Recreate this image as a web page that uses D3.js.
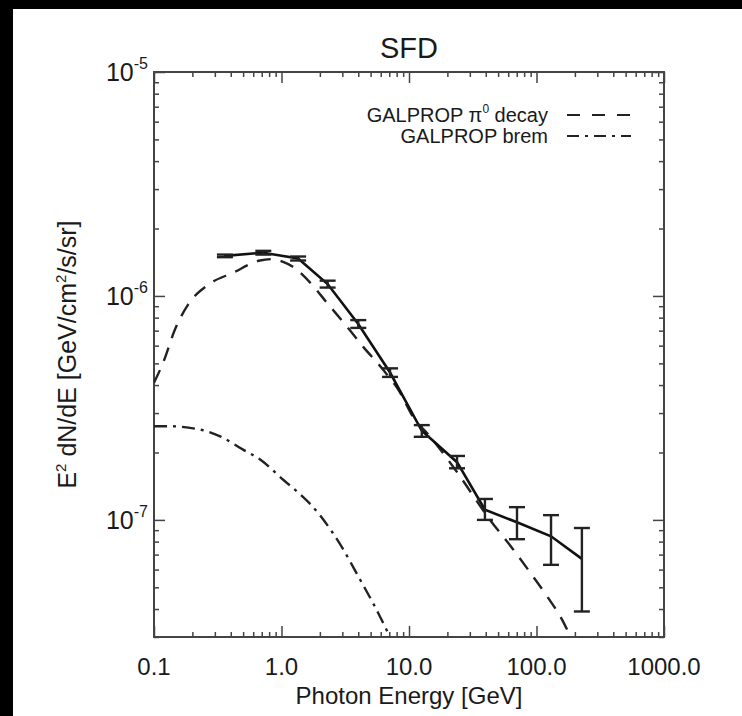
<!DOCTYPE html>
<html lang="en">
<head>
    <meta charset="UTF-8">
    <title>SFD</title>
    <script src="https://d3js.org/d3.v7.min.js"></script>
    <style>
        body { margin: 0; background: #000; }
        text { font-family: "Liberation Sans", Arial, Helvetica, sans-serif; fill: #1a1a1a; }
    </style>
</head>
<body>

<script>

    // measured points (GeV, GeV/cm^2/s/sr)
    var energy = [0.36, 0.72, 1.35, 2.3, 4.0, 7.1, 12.6, 23.8, 39.4, 70.3, 130, 227];
    var flux   = [1.51e-6, 1.56e-6, 1.47e-6, 1.13e-6, 7.5e-7, 4.55e-7, 2.5e-7, 1.81e-7, 1.11e-7, 9.76e-8, 8.45e-8, 6.7e-8];
    var fluxHi = [1.53e-6, 1.59e-6, 1.5e-6, 1.17e-6, 7.8e-7, 4.75e-7, 2.65e-7, 1.93e-7, 1.24e-7, 1.14e-7, 1.05e-7, 9.2e-8];
    var fluxLo = [1.49e-6, 1.53e-6, 1.44e-6, 1.09e-6, 7.2e-7, 4.35e-7, 2.35e-7, 1.7e-7, 1.0e-7, 8.2e-8, 6.3e-8, 3.9e-8];

    // GALPROP pi0 decay model
    var pi0E = [0.1, 0.118, 0.146, 0.185, 0.265, 0.417, 0.678, 0.85, 1.03, 1.23, 1.67, 2.27, 3.26, 4.36, 6.25, 8.5, 10.7, 14.6, 23, 43.2, 65.4, 89, 121, 161, 185];
    var pi0V = [4.1e-7, 5.04e-7, 7.08e-7, 9.15e-7, 1.12e-6, 1.27e-6, 1.44e-6, 1.46e-6, 1.42e-6, 1.35e-6, 1.15e-6, 9.33e-7, 7.3e-7, 5.94e-7, 4.69e-7, 3.71e-7, 2.9e-7, 2.36e-7, 1.68e-7, 1.0e-7, 7.4e-8, 5.83e-8, 4.56e-8, 3.53e-8, 3.0e-8];

    // GALPROP bremsstrahlung model
    var bremE = [0.1, 0.13, 0.23, 0.33, 0.5, 0.68, 0.97, 2.0, 3.0, 4.0, 5.4, 7.1];
    var bremV = [2.62e-7, 2.62e-7, 2.53e-7, 2.36e-7, 2.06e-7, 1.86e-7, 1.56e-7, 1.05e-7, 7.5e-8, 5.6e-8, 4.1e-8, 3.0e-8];

    var xTicks = [0.1, 1, 10, 100, 1000];
    var xTickLabels = ["0.1", "1.0", "10.0", "100.0", "1000.0"];
    var yTicks = [1e-5, 1e-6, 1e-7];
    var yTickExp = ["-5", "-6", "-7"];

    var W = 742, H = 716;
    var pLeft = 154, pRight = 664, pTop = 72, pBottom = 637;

    var svg = d3.select("body").append("svg")
        .attr("width", W).attr("height", H);

    // white page with black scan border on top/left
    svg.append("rect").attr("x", 13).attr("y", 9).attr("width", W - 13).attr("height", H - 9).attr("fill", "#fff");

    var xScale = d3.scaleLog().domain([0.1, 1000]).range([pLeft, pRight]);
    var yScale = d3.scaleLog().domain([3e-8, 1e-5]).range([pBottom, pTop]);

    var axisColor = "#444";

    // minor tick values
    var xMinor = [], yMinor = [];
    [0.1, 1, 10, 100].forEach(function (d) { for (var k = 2; k <= 9; k++) xMinor.push(d * k); });
    [1e-8, 1e-7, 1e-6].forEach(function (d) { for (var k = 2; k <= 9; k++) if (d * k >= 3e-8) yMinor.push(d * k); });

    function drawAxis(axisFn, scale, vals, size, transform) {
        var g = svg.append("g").attr("transform", transform)
            .call(axisFn(scale).tickValues(vals).tickSize(size).tickFormat(""));
        g.select(".domain").remove();
        g.selectAll("line").attr("stroke", axisColor).attr("stroke-width", 1.5);
    }

    // ticks point inward on all four sides
    drawAxis(d3.axisBottom, xScale, xTicks, -11, "translate(0," + pBottom + ")");
    drawAxis(d3.axisBottom, xScale, xMinor, -5, "translate(0," + pBottom + ")");
    drawAxis(d3.axisTop, xScale, xTicks, -11, "translate(0," + pTop + ")");
    drawAxis(d3.axisTop, xScale, xMinor, -5, "translate(0," + pTop + ")");
    drawAxis(d3.axisLeft, yScale, yTicks, -11, "translate(" + pLeft + ",0)");
    drawAxis(d3.axisLeft, yScale, yMinor, -5, "translate(" + pLeft + ",0)");
    drawAxis(d3.axisRight, yScale, yTicks, -11, "translate(" + pRight + ",0)");
    drawAxis(d3.axisRight, yScale, yMinor, -5, "translate(" + pRight + ",0)");

    svg.append("rect").attr("x", pLeft).attr("y", pTop)
        .attr("width", pRight - pLeft).attr("height", pBottom - pTop)
        .attr("fill", "none").attr("stroke", axisColor).attr("stroke-width", 2);

    // tick labels
    svg.selectAll(".xlab").data(xTicks).enter().append("text")
        .attr("x", function (d) { return xScale(d); })
        .attr("y", 675)
        .attr("text-anchor", "middle")
        .attr("font-size", 24)
        .text(function (d, i) { return xTickLabels[i]; });

    var ylab = svg.selectAll(".ylab").data(yTicks).enter().append("text")
        .attr("x", 148)
        .attr("y", function (d) { return yScale(d) + 9; })
        .attr("text-anchor", "end")
        .attr("font-size", 25);
    ylab.append("tspan").text("10");
    ylab.append("tspan").attr("font-size", 16).attr("dy", -12)
        .text(function (d, i) { return yTickExp[i]; });

    // titles
    svg.append("text").attr("x", (pLeft + pRight) / 2).attr("y", 58)
        .attr("text-anchor", "middle").attr("font-size", 29).text("SFD");

    svg.append("text").attr("x", (pLeft + pRight) / 2).attr("y", 704)
        .attr("text-anchor", "middle").attr("font-size", 24).text("Photon Energy [GeV]");

    var yt = svg.append("text")
        .attr("transform", "translate(76," + ((pTop + pBottom) / 2) + ") rotate(-90)")
        .attr("text-anchor", "middle").attr("font-size", 25);
    yt.append("tspan").text("E");
    yt.append("tspan").attr("font-size", 15).attr("dy", -10).text("2");
    yt.append("tspan").attr("dy", 10).text(" dN/dE [GeV/cm");
    yt.append("tspan").attr("font-size", 15).attr("dy", -10).text("2");
    yt.append("tspan").attr("dy", 10).text("/s/sr]");

    // clip to plot box
    svg.append("clipPath").attr("id", "plotclip").append("rect")
        .attr("x", pLeft).attr("y", pTop).attr("width", pRight - pLeft).attr("height", pBottom - pTop);
    var plot = svg.append("g").attr("clip-path", "url(#plotclip)");

    var line = d3.line()
        .x(function (d) { return xScale(d[0]); })
        .y(function (d) { return yScale(d[1]); });
    var smooth = d3.line()
        .x(function (d) { return xScale(d[0]); })
        .y(function (d) { return yScale(d[1]); })
        .curve(d3.curveMonotoneX);

    plot.append("path").datum(d3.zip(pi0E, pi0V))
        .attr("d", smooth).attr("fill", "none")
        .attr("stroke", "#222").attr("stroke-width", 2.4)
        .attr("stroke-dasharray", "14,10");

    plot.append("path").datum(d3.zip(bremE, bremV))
        .attr("d", smooth).attr("fill", "none")
        .attr("stroke", "#222").attr("stroke-width", 2.4)
        .attr("stroke-dasharray", "13,6,3,6");

    plot.append("path").datum(d3.zip(energy, flux))
        .attr("d", line).attr("fill", "none")
        .attr("stroke", "#111").attr("stroke-width", 2.6);

    // error bars
    var eb = plot.selectAll(".eb").data(d3.range(energy.length)).enter().append("g")
        .attr("stroke", "#222").attr("stroke-width", 2.4);
    eb.append("line")
        .attr("x1", function (i) { return xScale(energy[i]); })
        .attr("x2", function (i) { return xScale(energy[i]); })
        .attr("y1", function (i) { return yScale(fluxLo[i]); })
        .attr("y2", function (i) { return yScale(fluxHi[i]); });
    [fluxLo, fluxHi].forEach(function (arr) {
        eb.append("line")
            .attr("x1", function (i) { return xScale(energy[i]) - 8; })
            .attr("x2", function (i) { return xScale(energy[i]) + 8; })
            .attr("y1", function (i) { return yScale(arr[i]); })
            .attr("y2", function (i) { return yScale(arr[i]); });
    });

    // legend
    var legend = [
        { label: "GALPROP \u03c0", sup: "0", rest: " decay", dash: "13,12" },
        { label: "GALPROP brem", sup: "", rest: "", dash: "12,6,3,6" }
    ];
    var lg = svg.selectAll(".lg").data(legend).enter().append("g")
        .attr("transform", function (d, i) { return "translate(0," + (115 + i * 21) + ")"; });
    var lt = lg.append("text").attr("x", 548).attr("y", 7)
        .attr("text-anchor", "end").attr("font-size", 20);
    lt.append("tspan").text(function (d) { return d.label; });
    lt.append("tspan").attr("font-size", 12).attr("dy", -9).text(function (d) { return d.sup; });
    lt.append("tspan").attr("dy", 9).text(function (d) { return d.rest; });
    lg.append("line").attr("x1", 567).attr("x2", 631)
        .attr("stroke", "#222").attr("stroke-width", 2.2)
        .attr("stroke-dasharray", function (d) { return d.dash; });

</script>

</body>
</html>
